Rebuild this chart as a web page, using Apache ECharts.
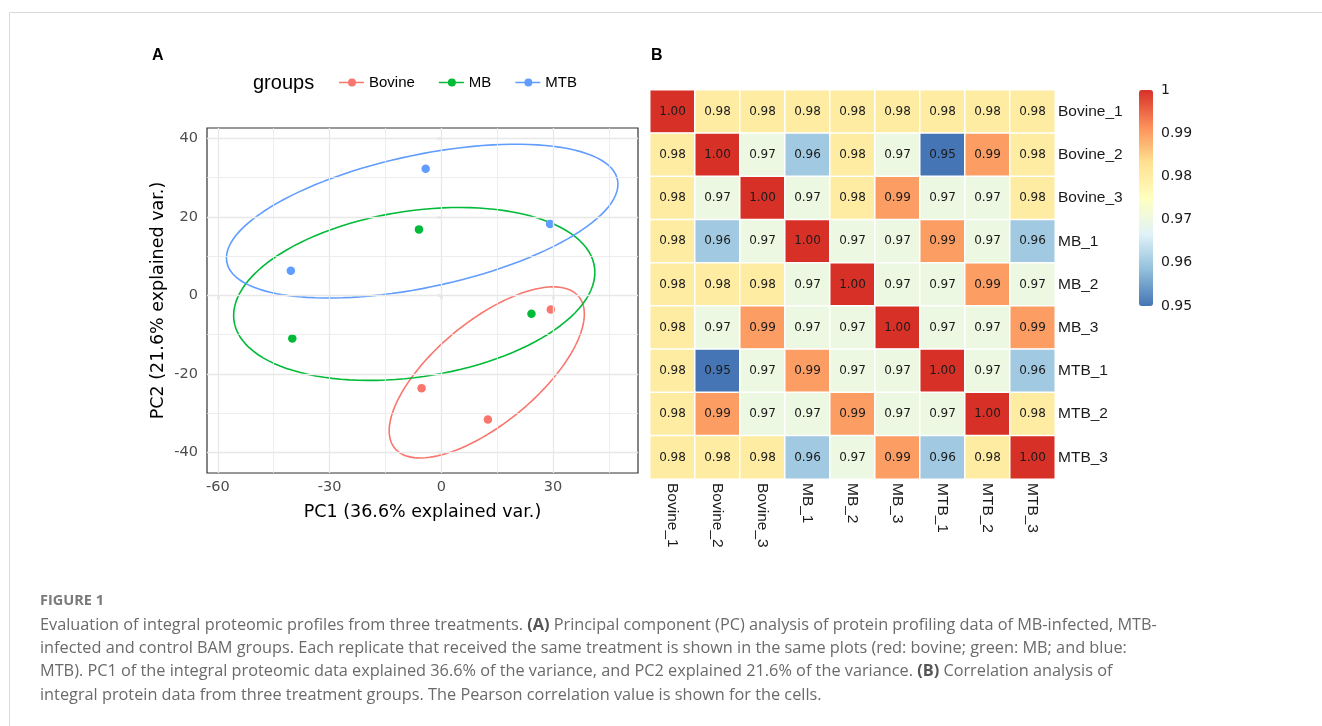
<!DOCTYPE html>
<html><head><meta charset="utf-8">
<script src="https://cdn.jsdelivr.net/npm/echarts@6/dist/echarts.min.js"></script>
<style>html,body{margin:0;padding:0;background:#fff}#c{width:1322px;height:726px}</style>
</head><body><div id="c"></div>
<script>
// ---------- PCA data (panel A) ----------
const groupNames = ['Bovine', 'MB', 'MTB'];
const bovinePC1 = [29.4, -5.3, 12.5];
const bovinePC2 = [-3.6, -23.6, -31.6];
const mbPC1 = [-6.0, -40.0, 24.2];
const mbPC2 = [16.8, -11.0, -4.7];
const mtbPC1 = [-4.2, -40.4, 29.2];
const mtbPC2 = [32.2, 6.3, 18.2];
const pc1Ticks = [-60, -30, 0, 30];
const pc1MinorTicks = [-45, -15, 15, 45];
const pc2Ticks = [-40, -20, 0, 20, 40];
const pc2MinorTicks = [-30, -10, 10, 30];
const ellipseProb = 0.68;

// ---------- Correlation data (panel B) ----------
const samples = ['Bovine_1','Bovine_2','Bovine_3','MB_1','MB_2','MB_3','MTB_1','MTB_2','MTB_3'];
const corrBovine1 = [1.00, 0.98, 0.98, 0.98, 0.98, 0.98, 0.98, 0.98, 0.98];
const corrBovine2 = [0.98, 1.00, 0.97, 0.96, 0.98, 0.97, 0.95, 0.99, 0.98];
const corrBovine3 = [0.98, 0.97, 1.00, 0.97, 0.98, 0.99, 0.97, 0.97, 0.98];
const corrMB1     = [0.98, 0.96, 0.97, 1.00, 0.97, 0.97, 0.99, 0.97, 0.96];
const corrMB2     = [0.98, 0.98, 0.98, 0.97, 1.00, 0.97, 0.97, 0.99, 0.97];
const corrMB3     = [0.98, 0.97, 0.99, 0.97, 0.97, 1.00, 0.97, 0.97, 0.99];
const corrMTB1    = [0.98, 0.95, 0.97, 0.99, 0.97, 0.97, 1.00, 0.97, 0.96];
const corrMTB2    = [0.98, 0.99, 0.97, 0.97, 0.99, 0.97, 0.97, 1.00, 0.98];
const corrMTB3    = [0.98, 0.98, 0.98, 0.96, 0.97, 0.99, 0.96, 0.98, 1.00];
const colorbarTicks = [0.95, 0.96, 0.97, 0.98, 0.99, 1];

// ---------- helpers ----------
const groupColors = ['#F8766D', '#00BA38', '#619CFF'];
const groupPC1 = [bovinePC1, mbPC1, mtbPC1];
const groupPC2 = [bovinePC2, mbPC2, mtbPC2];
const corrRows = [corrBovine1, corrBovine2, corrBovine3, corrMB1, corrMB2, corrMB3, corrMTB1, corrMTB2, corrMTB3];

function dataEllipse(xs, ys, prob) {
  const n = xs.length;
  const mx = xs.reduce((a, b) => a + b, 0) / n;
  const my = ys.reduce((a, b) => a + b, 0) / n;
  let sxx = 0, syy = 0, sxy = 0;
  for (let i = 0; i < n; i++) {
    sxx += (xs[i] - mx) ** 2; syy += (ys[i] - my) ** 2; sxy += (xs[i] - mx) * (ys[i] - my);
  }
  sxx /= (n - 1); syy /= (n - 1); sxy /= (n - 1);
  const a = Math.sqrt(sxx), b = sxy / a, c = Math.sqrt(Math.max(syy - b * b, 0));
  const ed = Math.sqrt(-2 * Math.log(1 - prob));
  const pts = [];
  for (let k = 0; k <= 120; k++) {
    const t = 2 * Math.PI * k / 120;
    pts.push([mx + ed * a * Math.cos(t), my + ed * (b * Math.cos(t) + c * Math.sin(t))]);
  }
  return pts;
}

const legendIcon = 'path://M0,4.3L25,4.3L25,5.7L0,5.7Z M17,5A4,4,0,1,1,9,5A4,4,0,1,1,17,5Z';

const series = [];
const gridLineData = [];
pc1Ticks.forEach(v => gridLineData.push({ xAxis: v, lineStyle: { width: 1.3 } }));
pc1MinorTicks.forEach(v => gridLineData.push({ xAxis: v, lineStyle: { width: 0.8 } }));
pc2Ticks.forEach(v => gridLineData.push({ yAxis: v, lineStyle: { width: 1.3 } }));
pc2MinorTicks.forEach(v => gridLineData.push({ yAxis: v, lineStyle: { width: 0.8 } }));
series.push({
  type: 'scatter', xAxisIndex: 0, yAxisIndex: 0, data: [], z: 1, silent: true,
  markLine: {
    silent: true, symbol: ['none', 'none'], label: { show: false }, animation: false,
    lineStyle: { color: '#e8e8e8', type: 'solid' },
    data: gridLineData
  }
});
groupNames.forEach((g, i) => {
  series.push({
    name: g, type: 'line', xAxisIndex: 0, yAxisIndex: 0, z: 3,
    data: dataEllipse(groupPC1[i], groupPC2[i], ellipseProb),
    showSymbol: false, symbol: 'none', smooth: false, silent: true,
    lineStyle: { color: groupColors[i], width: 1.6 },
    itemStyle: { color: groupColors[i] }
  });
  series.push({
    name: g, type: 'scatter', xAxisIndex: 0, yAxisIndex: 0, z: 4,
    data: groupPC1[i].map((x, j) => [x, groupPC2[i][j]]),
    symbolSize: 8.5, itemStyle: { color: groupColors[i], opacity: 1 }
  });
});

const heatData = [];
corrRows.forEach((row, r) => row.forEach((v, c) => heatData.push([c, r, v])));
series.push({
  type: 'heatmap', xAxisIndex: 1, yAxisIndex: 1, data: heatData,
  itemStyle: { borderColor: '#ffffff', borderWidth: 1.5 },
  label: {
    show: true, fontFamily: 'DejaVu Sans', fontSize: 12, color: '#1a1a1a',
    formatter: p => p.value[2].toFixed(2)
  },
  emphasis: { disabled: true }
});
const heatIndex = series.length - 1;

const capFont = '16.3px "Open Sans"';
const capRich = { b: { fontWeight: 'bold', fontFamily: 'Open Sans', fontSize: 16.3, fill: '#555' } };

const chart = echarts.init(document.getElementById('c'), null, { renderer: 'canvas' });
chart.setOption({
  animation: false,
  backgroundColor: '#ffffff',
  legend: {
    left: 339, top: 75, padding: 0, itemWidth: 25, itemHeight: 8, itemGap: 24,
    data: groupNames.map(g => ({ name: g, icon: legendIcon })),
    textStyle: { fontFamily: 'Liberation Sans', fontSize: 15, color: '#000' },
    selectedMode: false
  },
  grid: [
    { left: 207, top: 128, width: 431, height: 345, show: true, borderColor: '#333333', borderWidth: 1.2, backgroundColor: 'transparent' },
    { left: 650, top: 90, width: 405, height: 389 },
    { left: 1139, top: 90, width: 14, height: 216 }
  ],
  xAxis: [
    {
      type: 'value', gridIndex: 0, min: -62.9, max: 52.8,
      axisLine: { show: false },
      axisTick: { show: true, customValues: pc1Ticks, length: 4, lineStyle: { color: '#333', width: 1.2 } },
      axisLabel: { customValues: pc1Ticks, color: '#4d4d4d', fontFamily: 'DejaVu Sans', fontSize: 14.5, margin: 7 },
      splitLine: { show: false },
      name: 'PC1 (36.6% explained var.)', nameLocation: 'middle', nameGap: 30,
      nameTextStyle: { fontFamily: 'DejaVu Sans', fontSize: 17.5, color: '#000' }
    },
    {
      type: 'category', gridIndex: 1, data: samples, position: 'bottom',
      axisLine: { show: false }, axisTick: { show: false }, splitLine: { show: false },
      axisLabel: { rotate: -90, margin: 4, fontFamily: 'Liberation Sans', fontSize: 15.5, color: '#1a1a1a', interval: 0 }
    },
    { type: 'value', gridIndex: 2, show: false, min: 0, max: 1 }
  ],
  yAxis: [
    {
      type: 'value', gridIndex: 0, min: -45.2, max: 42.6,
      axisLine: { show: false },
      axisTick: { show: true, customValues: pc2Ticks, length: 4, lineStyle: { color: '#333', width: 1.2 } },
      axisLabel: { customValues: pc2Ticks, color: '#4d4d4d', fontFamily: 'DejaVu Sans', fontSize: 14.5, margin: 9 },
      splitLine: { show: false },
      name: 'PC2 (21.6% explained var.)', nameLocation: 'middle', nameGap: 40,
      nameTextStyle: { fontFamily: 'DejaVu Sans', fontSize: 17.5, color: '#000' }
    },
    {
      type: 'category', gridIndex: 1, data: samples, inverse: true, position: 'right',
      axisLine: { show: false }, axisTick: { show: false }, splitLine: { show: false },
      axisLabel: { margin: 3, fontFamily: 'Liberation Sans', fontSize: 15.5, color: '#1a1a1a', interval: 0 }
    },
    {
      type: 'value', gridIndex: 2, min: 0.95, max: 1, position: 'right',
      axisLine: { show: false }, axisTick: { show: false }, splitLine: { show: false },
      axisLabel: {
        customValues: colorbarTicks, margin: 8, fontFamily: 'DejaVu Sans', fontSize: 14, color: '#1a1a1a',
        formatter: v => (Math.abs(v - 1) < 1e-9 ? '1' : v.toFixed(2))
      }
    }
  ],
  visualMap: {
    type: 'continuous', seriesIndex: heatIndex, min: 0.95, max: 1,
    calculable: false, orient: 'vertical', left: 1139, top: 90, padding: 0,
    itemWidth: 14, itemHeight: 216, text: null, hoverLink: false,
    inRange: { color: ['#4575B4', '#91BFDB', '#E0F3F8', '#FFFFBF', '#FEE090', '#FC8D59', '#D73027'] }
  },
  graphic: [
    { type: 'rect', silent: true, z: 0, shape: { x: 9.5, y: 12.5, width: 1400, height: 800 },
      style: { fill: 'none', stroke: '#d9d9d9', lineWidth: 1 } },
    { type: 'text', x: 152, y: 56, style: { text: 'A', font: 'bold 16px "Liberation Sans"', fill: '#000', verticalAlign: 'middle' } },
    { type: 'text', x: 651, y: 56, style: { text: 'B', font: 'bold 16px "Liberation Sans"', fill: '#000', verticalAlign: 'middle' } },
    { type: 'text', x: 253, y: 83, style: { text: 'groups', font: '20px "Liberation Sans"', fill: '#000', verticalAlign: 'middle' } },
    { type: 'text', x: 40, y: 601, style: { text: 'FIGURE 1', font: 'bold 14.5px "Open Sans"', fill: '#7a7a7a', verticalAlign: 'middle' } },
    { type: 'text', x: 40, y: 625, style: { text: 'Evaluation of integral proteomic profiles from three treatments. {b|(A)} Principal component (PC) analysis of protein profiling data of MB-infected, MTB-',
      font: capFont, fill: '#6a6a6a', verticalAlign: 'middle', rich: capRich } },
    { type: 'text', x: 40, y: 648, style: { text: 'infected and control BAM groups. Each replicate that received the same treatment is shown in the same plots (red: bovine; green: MB; and blue:',
      font: capFont, fill: '#6a6a6a', verticalAlign: 'middle' } },
    { type: 'text', x: 40, y: 671.5, style: { text: 'MTB). PC1 of the integral proteomic data explained 36.6% of the variance, and PC2 explained 21.6% of the variance. {b|(B)} Correlation analysis of',
      font: capFont, fill: '#6a6a6a', verticalAlign: 'middle', rich: capRich } },
    { type: 'text', x: 40, y: 695, style: { text: 'integral protein data from three treatment groups. The Pearson correlation value is shown for the cells.',
      font: capFont, fill: '#6a6a6a', verticalAlign: 'middle' } }
  ],
  series: series
});
</script>
</body></html>
